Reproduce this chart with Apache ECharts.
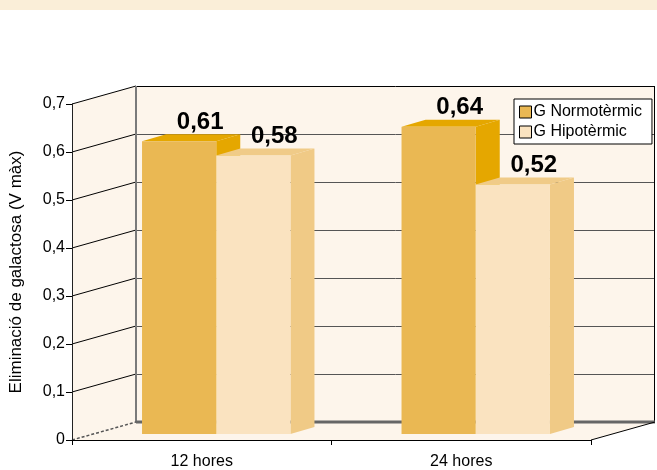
<!DOCTYPE html>
<html>
<head>
<meta charset="utf-8">
<script src="https://cdn.jsdelivr.net/npm/echarts@6/dist/echarts.min.js"></script>
<style>
  html, body { margin: 0; padding: 0; background: #ffffff; }
  #chart { width: 657px; height: 470px; }
</style>
</head>
<body>
<div id="chart"></div>
<script>
// Galactose elimination per group and time point
const categories = ['12 hores', '24 hores'];
const seriesNames = ['G Normotèrmic', 'G Hipotèrmic'];
const normotermic = [0.61, 0.64];
const hipotermic = [0.58, 0.52];
const yTickValues = [0, 0.1, 0.2, 0.3, 0.4, 0.5, 0.6, 0.7];

const FONT = "'Liberation Sans', Arial, Helvetica, sans-serif";
const WALL = '#FDF5EB';

// Pseudo-3D depth of the plot box and of the bars
const DEPTH = [64, -18];
const BAR_PLANE = [14.5, -6];
const BAR_DEPTH = [24, -7];

const palettes = [
  { front: '#EAB853', top: '#E5A700', side: '#E5A700' },
  { front: '#FAE3C0', top: '#F0CB88', side: '#F0CA86' }
];

function fmt(v, d) {
  return v === 0 ? '0' : v.toFixed(d).replace('.', ',');
}

function crisp(v) {
  return Math.round(v) + 0.5;
}

function renderWalls(params, api) {
  const cs = params.coordSys;
  const L = cs.x, R = cs.x + cs.width, T = cs.y, B = cs.y + cs.height;
  const dx = DEPTH[0], dy = DEPTH[1];
  const children = [];
  const fill = { fill: WALL, stroke: null };
  // floor, left wall, back wall
  children.push({ type: 'polygon', shape: { points: [[L, B], [L + dx, B + dy], [R + dx, B + dy], [R, B]] }, style: fill });
  children.push({ type: 'polygon', shape: { points: [[L, B], [L, T], [L + dx, T + dy], [L + dx, B + dy]] }, style: fill });
  children.push({ type: 'rect', shape: { x: L + dx, y: T + dy, width: R - L, height: B - T }, style: fill });
  // grid lines on the left and back walls
  yTickValues.forEach(function (v, i) {
    if (v === 0) return;
    const y = api.coord([0, v])[1];
    const last = i === yTickValues.length - 1;
    const yb = crisp(y + dy);
    children.push({ type: 'line', shape: { x1: L, y1: y, x2: L + dx, y2: y + dy }, style: { stroke: '#000', lineWidth: 1 } });
    children.push({ type: 'line', shape: { x1: L + dx, y1: yb, x2: R + dx, y2: yb }, style: { stroke: last ? '#000' : '#555', lineWidth: 1 } });
  });
  // back wall edges
  children.push({ type: 'line', shape: { x1: L + dx, y1: T + dy, x2: L + dx, y2: B + dy }, style: { stroke: '#7a7a7a', lineWidth: 2 } });
  children.push({ type: 'line', shape: { x1: crisp(R + dx) - 1, y1: T + dy, x2: crisp(R + dx) - 1, y2: B + dy }, style: { stroke: '#000', lineWidth: 1 } });
  children.push({ type: 'line', shape: { x1: L + dx, y1: B + dy, x2: R + dx, y2: B + dy }, style: { stroke: '#666', lineWidth: 3 } });
  // floor edges
  children.push({ type: 'line', shape: { x1: L, y1: B, x2: L + dx, y2: B + dy }, style: { stroke: '#555', lineWidth: 1.5, lineDash: [3, 2] } });
  children.push({ type: 'line', shape: { x1: R, y1: B, x2: R + dx, y2: B + dy }, style: { stroke: '#000', lineWidth: 1 } });
  return { type: 'group', children: children };
}

function makeBarRenderer(seriesPos) {
  const pal = palettes[seriesPos];
  return function (params, api) {
    const cat = api.value(0);
    const val = api.value(1);
    const topPt = api.coord([cat, val]);
    const basePt = api.coord([cat, 0]);
    const band = api.size([1, 0])[0];
    const w = band * 0.286;
    const x0 = topPt[0] - w + seriesPos * w + BAR_PLANE[0];
    const x1 = x0 + w;
    const yt = topPt[1] + BAR_PLANE[1];
    const yb = basePt[1] + BAR_PLANE[1];
    const ddx = BAR_DEPTH[0], ddy = BAR_DEPTH[1];
    return {
      type: 'group',
      children: [
        { type: 'polygon', shape: { points: [[x1, yt], [x1 + ddx, yt + ddy], [x1 + ddx, yb + ddy], [x1, yb]] }, style: { fill: pal.side } },
        { type: 'polygon', shape: { points: [[x0, yt], [x1, yt], [x1 + ddx, yt + ddy], [x0 + ddx, yt + ddy]] }, style: { fill: pal.top } },
        { type: 'rect', shape: { x: x0, y: yt, width: w, height: yb - yt }, style: { fill: pal.front } },
        {
          type: 'text',
          style: {
            text: fmt(val, 2),
            x: (x0 + x1) / 2 + 21,
            y: yt + ddy - 12,
            align: 'center',
            verticalAlign: 'middle',
            font: 'bold 24px ' + FONT,
            fill: '#000'
          }
        }
      ]
    };
  };
}

const chart = echarts.init(document.getElementById('chart'), null, { renderer: 'canvas' });

chart.setOption({
  animation: false,
  backgroundColor: '#ffffff',
  textStyle: { fontFamily: FONT },
  graphic: [
    { type: 'rect', left: 0, top: 0, shape: { width: 657, height: 10 }, style: { fill: '#FAEED8' }, z: 0 }
  ],
  grid: { left: 67, right: 66, top: 104, bottom: 30 },
  legend: {
    orient: 'vertical',
    left: 514,
    top: 99,
    padding: [5, 10, 4, 5],
    itemGap: 4,
    itemWidth: 12,
    itemHeight: 12,
    backgroundColor: '#ffffff',
    borderColor: '#000',
    borderWidth: 1,
    borderRadius: 0,
    icon: 'rect',
    textStyle: { fontSize: 16, color: '#000', fontFamily: FONT, padding: [0, 0, 0, -3] },
    data: [
      { name: seriesNames[0], itemStyle: { color: palettes[0].front, borderColor: '#000', borderWidth: 1 } },
      { name: seriesNames[1], itemStyle: { color: palettes[1].front, borderColor: '#000', borderWidth: 1 } }
    ],
    z: 20
  },
  xAxis: {
    type: 'category',
    data: categories,
    z: 10,
    axisLine: { lineStyle: { color: '#000', width: 1 } },
    axisTick: { show: true, length: 5, lineStyle: { color: '#000' } },
    axisLabel: { fontSize: 16, color: '#000', margin: 14, fontFamily: FONT },
    splitLine: { show: false }
  },
  yAxis: {
    type: 'value',
    min: 0,
    max: 0.7,
    interval: 0.1,
    z: 10,
    name: 'Eliminació de galactosa (V màx)',
    nameLocation: 'middle',
    nameGap: 47,
    nameTextStyle: { fontSize: 17, color: '#000', fontFamily: FONT },
    axisLine: { show: true, lineStyle: { color: '#222', width: 1 } },
    axisTick: { show: true, length: 6, lineStyle: { color: '#000' } },
    axisLabel: { fontSize: 16, color: '#000', margin: 7, fontFamily: FONT, formatter: function (v) { return fmt(v, 1); } },
    splitLine: { show: false }
  },
  series: [
    {
      type: 'custom',
      name: 'walls',
      silent: true,
      z: 1,
      renderItem: renderWalls,
      data: [[0, 0]]
    },
    {
      type: 'custom',
      name: seriesNames[0],
      z: 3,
      itemStyle: { color: palettes[0].front },
      renderItem: makeBarRenderer(0),
      data: categories.map(function (c, i) { return [i, normotermic[i]]; })
    },
    {
      type: 'custom',
      name: seriesNames[1],
      z: 4,
      itemStyle: { color: palettes[1].front },
      renderItem: makeBarRenderer(1),
      data: categories.map(function (c, i) { return [i, hipotermic[i]]; })
    }
  ]
});
</script>
</body>
</html>
